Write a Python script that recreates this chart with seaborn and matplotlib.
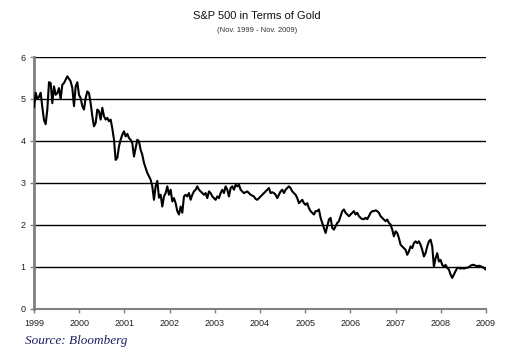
import numpy as np
import pandas as pd
import matplotlib
matplotlib.use("Agg")
import matplotlib.pyplot as plt
import seaborn as sns

# S&P 500 / gold ratio, regular samples (about every two weeks)
ratio = [
    4.80, 5.15, 5.00, 5.05, 5.15, 4.80, 4.50, 4.40, 4.75, 5.40,
    5.38, 4.90, 5.30, 5.10, 5.14, 5.26, 5.00, 5.34, 5.38, 5.46,
    5.54, 5.48, 5.42, 5.26, 4.83, 5.30, 5.40, 5.10, 5.02, 4.83,
    4.75, 5.02, 5.18, 5.14, 4.90, 4.59, 4.35, 4.43, 4.75, 4.71,
    4.51, 4.79, 4.59, 4.51, 4.55, 4.47, 4.51, 4.30, 4.03, 3.55,
    3.60, 3.87, 4.03, 4.15, 4.23, 4.11, 4.17, 4.07, 4.03, 3.95,
    3.63, 3.83, 4.03, 3.99, 3.79, 3.67, 3.48, 3.36, 3.24, 3.16,
    3.08, 2.92, 2.60, 2.92, 3.05, 2.65, 2.72, 2.44, 2.68, 2.76,
    2.92, 2.72, 2.84, 2.56, 2.64, 2.52, 2.33, 2.25, 2.44, 2.29,
    2.68, 2.72, 2.68, 2.76, 2.60, 2.72, 2.80, 2.84, 2.92, 2.84,
    2.80, 2.76, 2.72, 2.76, 2.64, 2.80, 2.76, 2.68, 2.64, 2.60,
    2.68, 2.64, 2.76, 2.84, 2.76, 2.92, 2.84, 2.68, 2.88, 2.92,
    2.84, 2.96, 2.92, 2.96, 2.84, 2.80, 2.76, 2.78, 2.80, 2.76,
    2.72, 2.70, 2.68, 2.62, 2.60, 2.64, 2.68, 2.72, 2.76, 2.80,
    2.84, 2.88, 2.76, 2.78, 2.76, 2.72, 2.64, 2.72, 2.80, 2.84,
    2.76, 2.84, 2.88, 2.92, 2.88, 2.80, 2.76, 2.72, 2.64, 2.52,
    2.56, 2.60, 2.52, 2.48, 2.52, 2.40, 2.33, 2.29, 2.25, 2.33,
    2.33, 2.37, 2.17, 2.05, 1.93, 1.81, 1.97, 2.13, 2.17, 1.93,
    1.89, 1.97, 2.05, 2.09, 2.21, 2.33, 2.37, 2.29, 2.25, 2.21,
    2.25, 2.29, 2.33, 2.25, 2.29, 2.21, 2.17, 2.14, 2.14, 2.17,
    2.14, 2.21, 2.29, 2.33, 2.33, 2.35, 2.33, 2.29, 2.21, 2.17,
    2.13, 2.09, 2.13, 2.05, 2.01, 1.89, 1.73, 1.85, 1.81, 1.69,
    1.53, 1.49, 1.45, 1.41, 1.29, 1.37, 1.49, 1.45, 1.57, 1.61,
    1.57, 1.61, 1.53, 1.41, 1.25, 1.33, 1.49, 1.61, 1.65, 1.49,
    1.01, 1.21, 1.33, 1.13, 1.17, 1.05, 1.01, 1.05, 0.98, 0.94,
    0.82, 0.74, 0.82, 0.90, 0.98, 0.98, 0.96, 0.98, 0.96, 0.98,
    0.98, 1.00, 1.03, 1.05, 1.05, 1.03, 1.02, 1.03, 1.02, 1.00,
    0.98, 0.94,
]
year_labels = ["1999", "2000", "2001", "2002", "2003", "2004",
               "2005", "2006", "2007", "2008", "2009"]
y_ticks = [0, 1, 2, 3, 4, 5, 6]

title = "S&P 500 in Terms of Gold"
subtitle = "(Nov. 1999 - Nov. 2009)"
source = "Source: Bloomberg"

# time position of each sample, in years after the first axis label
t = np.linspace(0, 9.99, len(ratio))
df = pd.DataFrame({"t": t, "ratio": ratio})

sns.set_style("white")
plt.rcParams["font.family"] = ["Liberation Sans", "DejaVu Sans"]

fig = plt.figure(figsize=(5.25, 3.6), dpi=100)
ax = fig.add_axes([34 / 525, 1 - 309 / 360, 452 / 525, 252 / 360])

for v in y_ticks[1:]:
    ax.axhline(v, color="black", lw=1.0, zorder=1)

sns.lineplot(data=df, x="t", y="ratio", ax=ax, color="black", lw=1.5, zorder=3)

ax.set_xlim(0, 10)
ax.set_ylim(0, 6)
ax.set_xticks(range(len(year_labels)))
ax.set_xticklabels(year_labels)
ax.set_yticks(y_ticks)
ax.set_yticklabels([str(v) for v in y_ticks])
ax.set_xlabel("")
ax.set_ylabel("")

for s in ["top", "right"]:
    ax.spines[s].set_visible(False)
ax.spines["left"].set_color("#808080")
ax.spines["left"].set_linewidth(2.0)
ax.spines["bottom"].set_color("#808080")
ax.spines["bottom"].set_linewidth(1.5)
ax.tick_params(axis="both", which="major", length=3, width=1, color="#808080",
               labelsize=6.5, labelcolor="#202020", direction="out", pad=3)
ax.tick_params(axis="x", bottom=True, pad=4)
ax.tick_params(axis="y", left=True)

fig.text(257 / 525, 1 - 16 / 360, title, ha="center", va="center",
         fontsize=8, color="#111111")
fig.text(257 / 525, 1 - 30 / 360, subtitle, ha="center", va="center",
         fontsize=5.5, color="#333333")
fig.text(25 / 525, 1 - 341 / 360, source, ha="left", va="center",
         fontsize=9.5, style="italic", family=["Liberation Serif", "DejaVu Serif"],
         color="#1c2060")

fig.savefig("out.png", dpi=100)
